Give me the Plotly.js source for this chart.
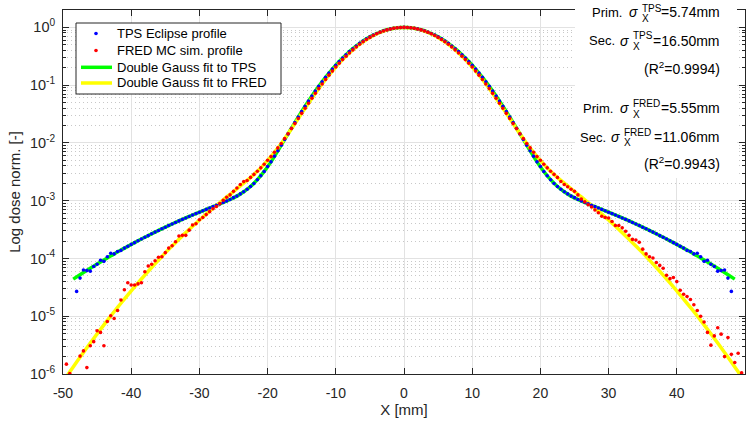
<!DOCTYPE html>
<html>
<head>
<meta charset="utf-8">
<script src="https://cdn.plot.ly/plotly-3.0.1.min.js"></script>
<style>html,body{margin:0;padding:0;background:#fff;}#chart{width:751px;height:422px;}</style>
</head>
<body>
<div id="chart"></div>
<script>
// ---------------- DATA ----------------
// TPS Eclipse profile: x from -48 mm to 48 mm, every 0.5 mm
const tpsX0 = -48, tpsDx = 0.5;
const tpsDots = [
 2.69e-5, 4.57e-5, 6.31e-5, 6.17e-5, 6.03e-5, 7.24e-5, 7.94e-5, 9.33e-5, 8.91e-5, 1.07e-4,
 1.23e-4, 1.20e-4, 1.32e-4, 1.38e-4, 1.51e-4, 1.62e-4,
 1.75e-4, 1.88e-4, 2.02e-4, 2.17e-4, 2.33e-4, 2.49e-4, 2.67e-4, 2.86e-4, 3.05e-4, 3.26e-4,
 3.48e-4, 3.71e-4, 3.95e-4, 4.20e-4, 4.47e-4, 4.74e-4, 5.03e-4, 5.34e-4, 5.65e-4, 5.98e-4,
 6.32e-4, 6.69e-4, 7.07e-4, 7.47e-4, 7.89e-4, 8.33e-4, 8.81e-4, 9.33e-4, 9.89e-4, 1.05e-3,
 1.13e-3, 1.20e-3, 1.31e-3, 1.43e-3, 1.58e-3, 1.76e-3, 1.99e-3, 2.31e-3, 2.71e-3, 3.21e-3,
 3.90e-3, 4.70e-3, 5.90e-3, 7.30e-3, 9.10e-3, 0.0115, 0.0143, 0.0180, 0.0226, 0.0281,
 0.0350, 0.0432, 0.0532, 0.0651, 0.0791, 0.0956, 0.1146, 0.1366, 0.1615, 0.190,
 0.221, 0.256, 0.2945, 0.336, 0.380, 0.428, 0.477, 0.528, 0.580, 0.633,
 0.685, 0.736, 0.785, 0.831, 0.873, 0.910, 0.942, 0.967, 0.985, 0.9965,
 1.000,
 0.9965, 0.985, 0.967, 0.942, 0.910, 0.873, 0.831, 0.785, 0.736, 0.685,
 0.633, 0.580, 0.528, 0.477, 0.428, 0.380, 0.336, 0.2945, 0.256, 0.221,
 0.190, 0.1615, 0.1366, 0.1146, 0.0956, 0.0791, 0.0651, 0.0532, 0.0432, 0.0350,
 0.0281, 0.0226, 0.0180, 0.0143, 0.0115, 9.10e-3, 7.30e-3, 5.90e-3, 4.70e-3, 3.90e-3,
 3.21e-3, 2.71e-3, 2.31e-3, 1.99e-3, 1.76e-3, 1.58e-3, 1.43e-3, 1.31e-3, 1.20e-3, 1.13e-3,
 1.05e-3, 9.89e-4, 9.33e-4, 8.81e-4, 8.33e-4, 7.89e-4, 7.47e-4, 7.07e-4, 6.69e-4, 6.32e-4,
 5.98e-4, 5.65e-4, 5.34e-4, 5.03e-4, 4.74e-4, 4.47e-4, 4.20e-4, 3.95e-4, 3.71e-4, 3.48e-4,
 3.26e-4, 3.05e-4, 2.86e-4, 2.67e-4, 2.49e-4, 2.33e-4, 2.17e-4, 2.02e-4, 1.88e-4, 1.75e-4,
 1.62e-4, 1.51e-4, 1.38e-4, 1.32e-4, 1.20e-4, 1.23e-4, 1.07e-4, 8.91e-5, 9.33e-5, 7.94e-5,
 7.24e-5, 6.03e-5, 6.17e-5, 6.31e-5, 4.57e-5, 2.69e-5
];

// FRED MC simulated profile: x from -49.5 mm to 49.5 mm, every 0.5 mm (null = below the axis)
const fredX0 = -49.5, fredDx = 0.5;
const fredDots = [
 1.48e-6, 1.02e-6, null, null, 2.04e-6, 2.51e-6, 1.29e-6, 3.09e-6, 3.63e-6, 5.62e-6,
 5.25e-6, 3.09e-6, 8.13e-6, 1.02e-5, 9.12e-6, 1.26e-5, 1.91e-5, 2.88e-5, 3.80e-5, 3.47e-5,
 3.47e-5, 3.63e-5, 3.80e-5, 5.89e-5, 7.41e-5, 7.94e-5, 9.12e-5, 1.05e-4, 1.07e-4, 1.26e-4,
 1.51e-4, 1.66e-4, 1.95e-4, 2.45e-4, 2.51e-4, 2.51e-4, 3.09e-4, 3.80e-4, 3.98e-4, 4.68e-4,
 5.13e-4, 5.75e-4, 6.46e-4, 7.24e-4, 7.94e-4, 8.91e-4, 1.02e-3, 1.15e-3, 1.26e-3, 1.45e-3,
 1.66e-3, 1.91e-3, 2.14e-3,
 2.24e-3, 2.53e-3, 2.85e-3, 3.24e-3, 3.70e-3, 4.27e-3, 5.00e-3, 5.80e-3, 6.90e-3, 8.20e-3,
 9.80e-3, 0.0119, 0.0144, 0.0177, 0.0216, 0.0265, 0.0325, 0.0399, 0.0487, 0.0593,
 0.0721, 0.0871, 0.105, 0.125, 0.149, 0.175, 0.206, 0.239, 0.277, 0.317,
 0.361, 0.408, 0.458, 0.510, 0.563, 0.617, 0.671, 0.724, 0.775, 0.822,
 0.866, 0.905, 0.938, 0.965, 0.985, 0.996, 1.000, 0.996, 0.985, 0.965,
 0.938, 0.905, 0.866, 0.822, 0.775, 0.724, 0.671, 0.617, 0.563, 0.510,
 0.458, 0.408, 0.361, 0.317, 0.277, 0.239, 0.206, 0.175, 0.149, 0.125,
 0.105, 0.0871, 0.0721, 0.0593, 0.0487, 0.0399, 0.0325, 0.0265, 0.0216, 0.0177,
 0.0144, 0.0119, 9.80e-3, 8.20e-3, 6.90e-3, 5.80e-3, 5.00e-3, 4.27e-3, 3.70e-3, 3.24e-3,
 2.85e-3, 2.53e-3,
 2.15e-3, 1.91e-3, 1.74e-3, 1.58e-3, 1.45e-3, 1.26e-3, 1.07e-3, 9.55e-4, 8.51e-4, 7.76e-4,
 6.92e-4, 6.17e-4, 5.37e-4, 5.13e-4, 5.01e-4, 4.37e-4, 3.72e-4, 3.72e-4, 3.39e-4, 2.95e-4,
 2.51e-4, 2.14e-4, 2.09e-4, 1.91e-4, 1.45e-4, 1.20e-4, 1.07e-4, 1.02e-4, 8.51e-5, 7.59e-5,
 6.76e-5, 5.13e-5, 4.47e-5, 4.68e-5, 3.98e-5, 2.82e-5, 2.40e-5, 2.19e-5, 1.95e-5, 1.58e-5,
 1.26e-5, 1.00e-5, 7.94e-6, 5.25e-6, 3.16e-6, 4.57e-6, 6.31e-6, 4.90e-6, 2.00e-6, 4.27e-6,
 2.19e-6, 1.58e-6, 2.29e-6, 1.05e-6
];

// Double Gauss fit to TPS: x from -48.5 mm to 48.5 mm, every 1 mm
const tpsFitX0 = -48.5, tpsFitDx = 1;
const tpsFit = [
 4.39e-5, 5.24e-5, 6.22e-5, 7.37e-5, 8.70e-5, 1.02e-4, 1.20e-4, 1.40e-4, 1.62e-4, 1.88e-4,
 2.17e-4, 2.49e-4, 2.86e-4, 3.26e-4, 3.71e-4, 4.20e-4, 4.74e-4, 5.34e-4, 5.98e-4, 6.69e-4,
 7.47e-4, 8.33e-4, 9.33e-4, 1.05e-3, 1.20e-3, 1.43e-3, 1.76e-3, 2.31e-3, 3.21e-3, 4.70e-3,
 7.30e-3, 0.0115, 0.0180, 0.0281, 0.0432, 0.0651, 0.0956, 0.1366, 0.190, 0.256,
 0.336, 0.428, 0.528, 0.633, 0.736, 0.831, 0.910, 0.967, 0.9965,
 0.9965, 0.967, 0.910, 0.831, 0.736, 0.633, 0.528, 0.428, 0.336,
 0.256, 0.190, 0.1366, 0.0956, 0.0651, 0.0432, 0.0281, 0.0180, 0.0115, 7.30e-3,
 4.70e-3, 3.21e-3, 2.31e-3, 1.76e-3, 1.43e-3, 1.20e-3, 1.05e-3, 9.33e-4, 8.33e-4, 7.47e-4,
 6.69e-4, 5.98e-4, 5.34e-4, 4.74e-4, 4.20e-4, 3.71e-4, 3.26e-4, 2.86e-4, 2.49e-4, 2.17e-4,
 1.88e-4, 1.62e-4, 1.40e-4, 1.20e-4, 1.02e-4, 8.70e-5, 7.37e-5, 6.22e-5, 5.24e-5, 4.39e-5
];

// Double Gauss fit to FRED: x from -50 mm to 50 mm, every 1 mm
const fredFitX0 = -50, fredFitDx = 1;
const fredFit = [
 7.3e-7, 1.09e-6, 1.61e-6, 2.36e-6, 3.43e-6, 4.95e-6, 7.09e-6, 1.01e-5, 1.42e-5, 1.98e-5,
 2.75e-5, 3.78e-5, 5.15e-5, 6.97e-5, 9.35e-5, 1.25e-4, 1.64e-4, 2.15e-4, 2.80e-4, 3.61e-4,
 4.62e-4, 5.87e-4, 7.40e-4, 9.27e-4, 1.16e-3, 1.44e-3, 1.80e-3, 2.24e-3, 2.85e-3, 3.70e-3,
 5.00e-3, 6.90e-3, 9.80e-3, 0.0144, 0.0216, 0.0325, 0.0487, 0.0721, 0.105, 0.149,
 0.206, 0.277, 0.361, 0.458, 0.563, 0.671, 0.775, 0.866, 0.938, 0.985,
 1.000,
 0.985, 0.938, 0.866, 0.775, 0.671, 0.563, 0.458, 0.361, 0.277, 0.206,
 0.149, 0.105, 0.0721, 0.0487, 0.0325, 0.0216, 0.0144, 9.80e-3, 6.90e-3, 5.00e-3,
 3.70e-3, 2.85e-3, 2.24e-3, 1.80e-3, 1.44e-3, 1.16e-3, 9.27e-4, 7.40e-4, 5.87e-4, 4.62e-4,
 3.61e-4, 2.80e-4, 2.15e-4, 1.64e-4, 1.25e-4, 9.35e-5, 6.97e-5, 5.15e-5, 3.78e-5, 2.75e-5,
 1.98e-5, 1.42e-5, 1.01e-5, 7.09e-6, 4.95e-6, 3.43e-6, 2.36e-6, 1.61e-6, 1.09e-6, 7.3e-7
];

// Tick labels
const xTickVals = [-50, -40, -30, -20, -10, 0, 10, 20, 30, 40, 50];
const xTickText = ['-50', '-40', '-30', '-20', '-10', '0', '10', '20', '30', '40', '50'];
const yTickVals = [1e-6, 1e-5, 1e-4, 1e-3, 1e-2, 1e-1, 1];
const yTickText = ['10<sup>-6</sup>', '10<sup>-5</sup>', '10<sup>-4</sup>', '10<sup>-3</sup>',
                   '10<sup>-2</sup>', '10<sup>-1</sup>', '10<sup>0</sup>'];

// Legend names and fit parameter texts
const seriesNames = ['TPS Eclipse profile', 'FRED MC sim. profile', 'Double Gauss fit to TPS', 'Double Gauss fit to FRED'];
const seriesColors = ['#0000ff', '#ff0000', '#00ff00', '#ffff00'];
const fitTexts = {
  tpsPrim: '=5.74mm', tpsSec: '=16.50mm', tpsR2: '(R<sup>2</sup>=0.9994)',
  fredPrim: '=5.55mm', fredSec: '=11.06mm', fredR2: '(R<sup>2</sup>=0.9943)'
};

// ---------------- CHART ----------------
const FONT = 'Liberation Sans, Arial, Helvetica, sans-serif';
const INK = '#262626';

const traces = [
  { type: 'scatter', mode: 'lines', name: seriesNames[2], y: tpsFit, x0: tpsFitX0, dx: tpsFitDx,
    line: { color: seriesColors[2], width: 3.5, shape: 'spline', smoothing: 0.8 } },
  { type: 'scatter', mode: 'lines', name: seriesNames[3], y: fredFit, x0: fredFitX0, dx: fredFitDx,
    line: { color: seriesColors[3], width: 3.5, shape: 'spline', smoothing: 0.8 } },
  { type: 'scatter', mode: 'markers', name: seriesNames[0], y: tpsDots, x0: tpsX0, dx: tpsDx,
    marker: { color: seriesColors[0], size: 3.6 } },
  { type: 'scatter', mode: 'markers', name: seriesNames[1], y: fredDots, x0: fredX0, dx: fredDx,
    marker: { color: seriesColors[1], size: 3.6 } }
];

const L = 63, R = 745, T = 10, B = 374;
const px = v => (v - L) / (R - L);
const py = v => (B - v) / (B - T);

const annotations = [];
function addText(text, x, y, anchor, size) {
  annotations.push({ xref: 'paper', yref: 'paper', x: px(x), y: py(y), xanchor: anchor, yanchor: 'middle',
    text: text, showarrow: false, font: { family: FONT, size: size, color: '#000000' } });
}

// Legend (drawn as a framed box with samples)
const shapes = [];
shapes.push({ type: 'rect', xref: 'paper', yref: 'paper', x0: px(76), x1: px(281), y0: py(94), y1: py(23),
  fillcolor: '#ffffff', line: { color: INK, width: 1 }, layer: 'above' });
const legendRows = [33.5, 50.5, 67.3, 83];
[0, 1].forEach(i => {
  const r = 1.8;
  shapes.push({ type: 'circle', xref: 'paper', yref: 'paper', x0: px(96 - r), x1: px(96 + r),
    y0: py(legendRows[i] + r), y1: py(legendRows[i] - r), fillcolor: seriesColors[i],
    line: { width: 0 }, layer: 'above' });
});
[2, 3].forEach(i => {
  shapes.push({ type: 'line', xref: 'paper', yref: 'paper', x0: px(81), x1: px(112),
    y0: py(legendRows[i]), y1: py(legendRows[i]), line: { color: seriesColors[i], width: 3.5 }, layer: 'above' });
});
seriesNames.forEach((n, i) => addText(n, 115, legendRows[i], 'left', 13));

// White box behind the fit parameters
shapes.push({ type: 'rect', xref: 'paper', yref: 'paper', x0: px(575), x1: px(737), y0: py(178), y1: py(0),
  fillcolor: '#ffffff', line: { width: 0 }, layer: 'above' });

// TPS block
addText('Prim.', 590, 12.5, 'left', 13);
addText('<i>σ</i>', 640, 12.5, 'right', 14);
addText('TPS', 640, 8, 'left', 10);
addText('X', 640, 18.5, 'left', 10);
addText(fitTexts.tpsPrim, 722, 12.5, 'right', 14);
addText('Sec.', 587, 40.5, 'left', 13);
addText('<i>σ</i>', 631, 40.5, 'right', 14);
addText('TPS', 631, 36, 'left', 10);
addText('X', 631, 46.5, 'left', 10);
addText(fitTexts.tpsSec, 722, 40.5, 'right', 14);
addText(fitTexts.tpsR2, 722, 68.3, 'right', 14);
// FRED block
addText('Prim.', 581, 108.3, 'left', 13);
addText('<i>σ</i>', 631, 108.3, 'right', 14);
addText('FRED', 631, 103.5, 'left', 10);
addText('X', 631, 114, 'left', 10);
addText(fitTexts.fredPrim, 722, 108.3, 'right', 14);
addText('Sec.', 578, 137, 'left', 13);
addText('<i>σ</i>', 622, 137, 'right', 14);
addText('FRED', 622, 132, 'left', 10);
addText('X', 622, 142.5, 'left', 10);
addText(fitTexts.fredSec, 722, 137, 'right', 14);
addText(fitTexts.fredR2, 722, 163.3, 'right', 14);

const layout = {
  width: 751, height: 422,
  margin: { l: L, r: 751 - R, t: T, b: 422 - B },
  paper_bgcolor: '#ffffff', plot_bgcolor: '#ffffff',
  font: { family: FONT, size: 14, color: INK },
  showlegend: false,
  xaxis: {
    range: [-50, 50], tickmode: 'array', tickvals: xTickVals, ticktext: xTickText,
    ticks: 'inside', ticklen: 6, tickcolor: INK, tickwidth: 1,
    showline: true, linecolor: INK, linewidth: 1, mirror: 'ticks',
    showgrid: true, gridcolor: '#e2e2e2', gridwidth: 1, zeroline: false,
    tickfont: { family: FONT, size: 14, color: INK },
    ticklabelstandoff: 6,
    title: { text: 'X [mm]', font: { family: FONT, size: 15, color: INK }, standoff: 3 },
    automargin: false
  },
  yaxis: {
    type: 'log', range: [-6, Math.log10(2)], tickmode: 'array', tickvals: yTickVals, ticktext: yTickText,
    ticks: 'inside', ticklen: 6, tickcolor: INK, tickwidth: 1,
    showline: true, linecolor: INK, linewidth: 1, mirror: 'ticks',
    showgrid: true, gridcolor: '#e2e2e2', gridwidth: 1, zeroline: false,
    minor: { dtick: 'D1', ticks: 'inside', ticklen: 3, tickcolor: INK, showgrid: true,
             gridcolor: '#c8c8c8', griddash: '1px,3px', gridwidth: 1 },
    tickfont: { family: FONT, size: 14.5, color: INK },
    ticklabelstandoff: 4,
    title: { text: 'Log dose norm. [-]', font: { family: FONT, size: 15, color: INK }, standoff: 5 },
    automargin: false
  },
  shapes: shapes,
  annotations: annotations
};

Plotly.newPlot('chart', traces, layout, { displayModeBar: false, staticPlot: true });
</script>
</body>
</html>
